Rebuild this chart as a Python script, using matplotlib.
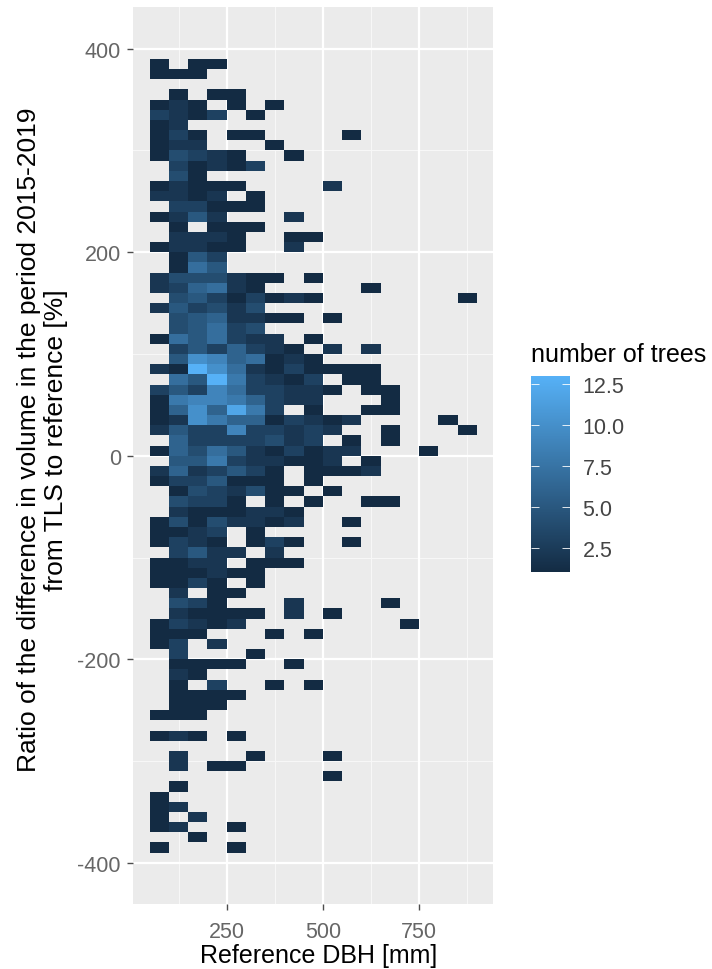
import numpy as np
import matplotlib
matplotlib.use('Agg')
import matplotlib.pyplot as plt
from matplotlib.colors import LinearSegmentedColormap

plt.rcParams['font.family'] = ['Liberation Sans', 'DejaVu Sans']
plt.rcParams['axes.unicode_minus'] = False

# bin edges of the 2d histogram
dbh_edges = np.arange(50, 901, 50)
ratio_edges = np.arange(390, -391, -10)

# number of trees per cell, one row per ratio bin from top to bottom, trailing zeros left out
counts = [
    [1, 0, 1, 1],
    [1, 1, 1],
    [],
    [0, 1, 0, 1, 1],
    [1, 2, 1, 0, 1, 0, 1],
    [3, 2, 1, 3, 0, 1],
    [1, 2],
    [1, 3, 1, 0, 1, 1, 0, 0, 0, 0, 1],
    [1, 2, 2, 0, 0, 0, 1],
    [1, 4, 3, 2, 1, 0, 0, 1],
    [0, 3, 1, 2, 1, 3],
    [0, 4, 1],
    [1, 2, 1, 1, 1, 0, 0, 0, 0, 2],
    [2, 2, 1, 2, 0, 1],
    [0, 3, 3, 1, 1, 1],
    [1, 2, 5, 2, 0, 0, 0, 2],
    [0, 1, 0, 1, 1, 1],
    [0, 2, 2, 2, 1, 0, 0, 1, 1],
    [1, 2, 2, 1, 1, 0, 0, 2],
    [0, 1, 5, 3],
    [0, 1, 7, 5],
    [2, 4, 4, 4, 2, 1, 1, 0, 1],
    [2, 3, 6, 7, 2, 1, 0, 0, 0, 0, 0, 1],
    [0, 4, 5, 3, 1, 3, 1, 2, 1, 0, 0, 0, 0, 0, 0, 0, 1],
    [2, 5, 3, 4, 2, 4],
    [0, 4, 5, 6, 2, 2, 1, 1, 0, 1],
    [0, 4, 5, 7, 3, 4],
    [1, 7, 5, 7, 3, 2, 2, 0, 1],
    [0, 3, 5, 3, 6, 3, 2, 1, 0, 2, 0, 2],
    [0, 5, 10, 9, 6, 7, 1, 2, 1],
    [2, 1, 13, 10, 7, 2, 1, 3, 1, 1, 1, 1],
    [0, 7, 5, 13, 8, 3, 2, 1, 3, 0, 1, 1],
    [3, 5, 3, 9, 7, 3, 3, 2, 2, 1, 0, 1, 1],
    [1, 8, 9, 9, 8, 6, 3, 2, 2, 0, 0, 0, 1],
    [1, 6, 10, 6, 12, 8, 3, 0, 1, 0, 0, 1, 1],
    [1, 2, 10, 8, 6, 6, 1, 3, 2, 1, 2, 0, 0, 0, 0, 1],
    [2, 5, 3, 3, 9, 3, 3, 2, 3, 2, 0, 0, 1, 0, 0, 0, 1],
    [0, 6, 3, 3, 3, 3, 4, 2, 3, 0, 1, 0, 1],
    [1, 6, 4, 7, 5, 2, 1, 3, 1, 2, 2, 0, 0, 0, 1],
    [0, 5, 5, 8, 3, 2, 2, 1, 1, 2, 0, 1],
    [2, 6, 2, 3, 5, 3, 1, 0, 1, 1, 1, 2],
    [1, 3, 3, 5, 1, 1, 1, 0, 1],
    [0, 1, 4, 3, 2, 4, 1, 1, 0, 1],
    [0, 4, 3, 3, 1, 0, 1, 0, 1, 0, 0, 1, 1],
    [0, 2, 1, 1, 1, 2, 2, 1],
    [1, 4, 1, 4, 2, 2, 1, 2, 0, 0, 1],
    [1, 1, 2, 3, 0, 1],
    [1, 3, 2, 1, 0, 1, 3, 1, 0, 0, 1],
    [0, 3, 5, 2, 2, 0, 2],
    [1, 1, 2, 2, 0, 1, 1, 1],
    [1, 1, 1, 2, 1, 1],
    [1, 1, 3, 1, 0, 1],
    [0, 2, 0, 1, 1],
    [0, 4, 3, 1, 0, 0, 0, 2, 0, 0, 0, 0, 1],
    [0, 2, 1, 1, 1, 1, 0, 2, 0, 1],
    [1, 3, 2, 1, 2, 0, 0, 0, 0, 0, 0, 0, 0, 1],
    [1, 1, 1, 0, 0, 0, 1, 0, 1],
    [1, 3, 0, 2],
    [0, 3, 0, 0, 0, 1],
    [0, 1, 1, 1, 1, 0, 0, 1],
    [0, 2, 1],
    [0, 1, 0, 3, 0, 0, 1, 0, 1],
    [0, 1, 1, 1, 1],
    [0, 1, 1, 1],
    [1, 1, 1],
    [],
    [1, 2, 1, 0, 1],
    [],
    [0, 2, 0, 0, 0, 1, 0, 0, 0, 1],
    [0, 2, 0, 1, 1],
    [0, 0, 0, 0, 0, 0, 0, 0, 0, 1],
    [0, 1],
    [1],
    [1, 2],
    [1, 0, 2],
    [1, 2, 0, 0, 1],
    [0, 0, 1],
    [1, 0, 0, 0, 1],
]

x_major = [250, 500, 750]
x_minor = [125, 375, 625, 875]
y_major = [-400, -200, 0, 200, 400]
y_minor = [-300, -100, 100, 300]
cbar_ticks = [2.5, 5.0, 7.5, 10.0, 12.5]
cbar_labels = ['2.5', '5.0', '7.5', '10.0', '12.5']

W, H = 712, 970


def px_rect(left, top, right, bottom):
    return [left / W, 1 - bottom / H, (right - left) / W, (bottom - top) / H]


grid = np.zeros((len(counts), len(dbh_edges) - 1))
for i, row in enumerate(counts):
    grid[i, :len(row)] = row
grid = np.ma.masked_equal(grid, 0)

cmap = LinearSegmentedColormap.from_list('gg', ['#132B43', '#56B1F7'])

fig = plt.figure(figsize=(W / 100, H / 100), dpi=100)
ax = fig.add_axes(px_rect(133.3, 8, 492.7, 905))
ax.set_facecolor('#EBEBEB')
for s in ax.spines.values():
    s.set_visible(False)

# grid lines below the cells
ax.vlines(x_minor, -441, 442, color='#F7F7F7', lw=0.8, zorder=1)
ax.hlines(y_minor, 0, 950, color='#F7F7F7', lw=0.8, zorder=1)
ax.vlines(x_major, -441, 442, color='white', lw=1.6, zorder=1)
ax.hlines(y_major, 0, 950, color='white', lw=1.6, zorder=1)

mesh = ax.pcolormesh(dbh_edges, ratio_edges, grid, cmap=cmap, vmin=1, vmax=13, zorder=2)

ax.set_xlim(7.4, 941)
ax.set_ylim(-440.5, 441)
ax.set_xticks(x_major)
ax.set_yticks(y_major)
ax.tick_params(color='#4D4D4D', labelcolor='#666666', labelsize=15.5, length=4, width=1)
ax.tick_params(axis='x', pad=8)
ax.tick_params(axis='y', pad=5)

fig.text(318.5 / W, 1 - 956.5 / H, 'Reference DBH [mm]', ha='center', va='center', fontsize=18)
fig.text(42.5 / W, 1 - 440 / H,
         'Ratio of the difference in volume in the period 2015-2019\nfrom TLS to reference [%]',
         rotation=90, ha='center', va='center', ma='center', fontsize=19, linespacing=1.15)

# legend
cax = fig.add_axes(px_rect(530.7, 376.7, 570, 573.3))
cbar = fig.colorbar(mesh, cax=cax, ticks=cbar_ticks)
cbar.set_ticklabels(cbar_labels)
cbar.outline.set_visible(False)
cax.tick_params(axis='y', which='both', left=True, right=True, direction='in', length=5.6,
                width=0.6, color='white', labelcolor='#444444', labelsize=15.5, pad=9)
fig.text(531 / W, 1 - 355 / H, 'number of trees', ha='left', va='center', fontsize=18)

fig.savefig('out.png', dpi=100)
